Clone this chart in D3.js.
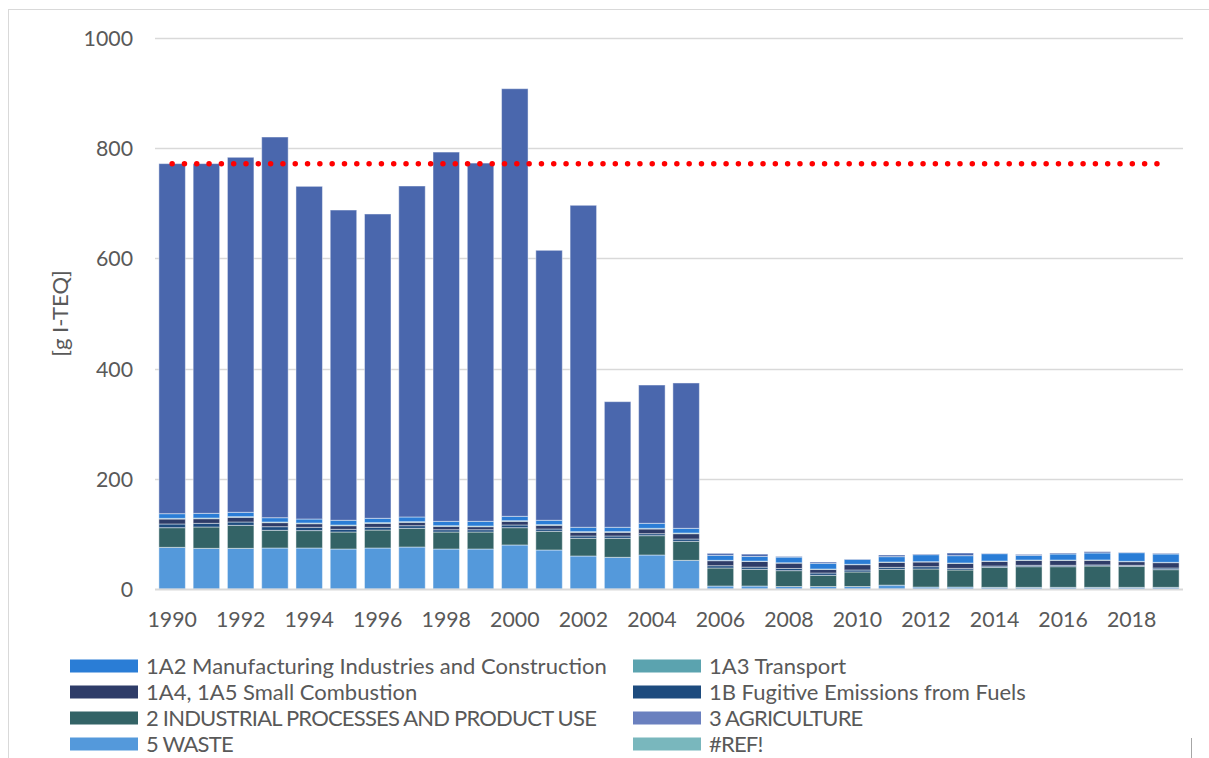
<!DOCTYPE html>
<html>
<head>
<meta charset="utf-8">
<script src="https://cdn.jsdelivr.net/npm/d3@7"></script>
<style>
  html, body { margin: 0; padding: 0; background: #fff; }
  svg { display: block; font-family: "Lato", "Liberation Sans", sans-serif; }
</style>
</head>
<body>
<svg id="chart" width="1209" height="758"></svg>
<script>
// Years on the category axis
const years = d3.range(1990, 2020);

// Emissions by source category, g I-TEQ per year (1990–2019)
const waste = [75.6, 73.8, 73.8, 74.4, 74.4, 72.6, 74.4, 76.2, 72.6, 72.6, 79.9, 70.8, 59.9, 57.5, 61.7, 52.0,
  5.4, 5.4, 4.5, 4.5, 4.5, 7.0, 3.5, 3.5, 3.0, 3.0, 3.0, 3.0, 3.0, 3.0];
const agriculture = [0, 0, 0, 0, 0, 0, 0, 0, 0, 0, 0, 0, 0, 0, 0, 0,
  0, 0, 0, 0, 0, 0, 0, 0, 0, 0, 0, 0, 0, 0];
const industrial = [35.7, 38.7, 41.7, 32.1, 31.6, 30.8, 32.6, 33.9, 30.8, 30.8, 31.4, 33.9, 32.1, 34.5, 35.1, 34.5,
  32.7, 30.3, 28.8, 20.3, 26.4, 28.7, 32.8, 31.0, 36.3, 37.5, 37.5, 38.7, 38.1, 32.1];
const fugitive = [6.7, 6.7, 6.1, 6.6, 6.0, 4.9, 5.0, 4.8, 4.2, 4.2, 4.9, 4.2, 4.2, 4.2, 3.6, 4.2,
  4.2, 4.0, 4.0, 4.2, 3.6, 3.6, 4.2, 3.0, 2.4, 2.5, 2.5, 2.0, 1.9, 3.0];
const smallCombustion = [9.0, 8.4, 8.5, 7.3, 6.5, 6.6, 7.2, 6.1, 6.1, 5.5, 6.6, 6.7, 6.7, 6.7, 8.5, 9.7,
  9.1, 10.3, 9.7, 6.7, 9.7, 9.1, 8.5, 9.1, 8.5, 9.0, 9.0, 8.4, 6.6, 9.7];
const transport = [1.2, 1.2, 1.2, 1.2, 1.2, 1.2, 1.2, 1.2, 1.2, 1.2, 1.2, 1.2, 1.2, 1.2, 1.2, 1.2,
  0.6, 0.6, 0.6, 0.6, 0.6, 0.6, 0.6, 0.6, 0.6, 0.6, 0.6, 0.6, 0.6, 0.6];
const manufacturing = [8.5, 8.5, 7.9, 7.8, 7.3, 8.6, 7.9, 8.5, 7.9, 8.5, 7.9, 7.9, 7.9, 7.9, 9.1, 8.5,
  9.1, 8.5, 10.3, 10.3, 9.0, 9.7, 12.7, 13.3, 13.3, 8.5, 10.9, 12.7, 15.7, 15.1];
const refSeries = [0, 0, 0, 0, 0, 0, 0, 0, 0, 0, 0, 0, 0, 0, 0, 0,
  0, 0, 0, 0, 0, 0, 0, 0, 0, 0, 0, 0, 0, 0];
const mainSource = [635.3, 634.7, 644.3, 690.9, 603.8, 563.1, 552.3, 600.7, 670.2, 650.2, 776.1, 490.0, 584.4, 228.0, 251.0, 263.8,
  3.6, 4.2, 1.2, 2.4, 0.6, 3.0, 1.2, 4.8, 0.5, 1.8, 1.8, 2.4, 0.6, 1.2];

// Reference level drawn as a dotted line (1990 total)
const referenceLevel = 772;

// Axis ticks
const yTicks = [0, 200, 400, 600, 800, 1000];
const xTickYears = d3.range(1990, 2020, 2);

// Series in stacking order (bottom to top); legend order is separate
const series = [
  { key: "ref", name: "#REF!", color: "#79B7BD", values: refSeries },
  { key: "waste", name: "5 WASTE", color: "#5499DB", values: waste },
  { key: "agr", name: "3 AGRICULTURE", color: "#6A80BF", values: agriculture },
  { key: "ind", name: "2 INDUSTRIAL PROCESSES AND PRODUCT USE", color: "#336366", values: industrial },
  { key: "fug", name: "1B Fugitive Emissions from Fuels", color: "#1D4B7E", values: fugitive },
  { key: "small", name: "1A4, 1A5 Small Combustion", color: "#2E3C68", values: smallCombustion },
  { key: "trans", name: "1A3 Transport", color: "#5BA3AF", values: transport },
  { key: "manu", name: "1A2 Manufacturing Industries and Construction", color: "#2A7DD6", values: manufacturing },
  { key: "main", name: "", color: "#4A67AD", values: mainSource }
];
const legendOrder = ["manu", "trans", "small", "fug", "ind", "agr", "waste", "ref"];

const rows = years.map((yr, i) => {
  const r = { year: yr };
  series.forEach(s => { r[s.key] = s.values[i]; });
  return r;
});

const svg = d3.select("#chart");
const textColor = "#595959";

// Chart frame
svg.append("rect")
  .attr("x", 8.5).attr("y", 9.5)
  .attr("width", 1240).attr("height", 800)
  .attr("fill", "none").attr("stroke", "#D9D9D9").attr("stroke-width", 1);

// Page rule at lower right
svg.append("line")
  .attr("x1", 1191.5).attr("x2", 1191.5)
  .attr("y1", 738).attr("y2", 758)
  .attr("stroke", "#A6A6A6").attr("stroke-width", 1);

const plot = { left: 155, right: 1183, top: 38, bottom: 589 };

const x = d3.scaleBand()
  .domain(years)
  .range([plot.left, plot.right])
  .paddingInner(0.227)
  .paddingOuter(0.1135);

const y = d3.scaleLinear()
  .domain([0, 1000])
  .range([plot.bottom, plot.top]);

// Gridlines
svg.append("g")
  .selectAll("line")
  .data(yTicks.filter(d => d > 0))
  .join("line")
  .attr("x1", plot.left).attr("x2", plot.right)
  .attr("y1", d => Math.round(y(d)) + 0.5).attr("y2", d => Math.round(y(d)) + 0.5)
  .attr("stroke", "#D9D9D9").attr("stroke-width", 1.3);

// Y axis labels
const yAxis = d3.axisLeft(y).tickValues(yTicks).tickSize(0).tickPadding(0).tickFormat(d3.format("d"));
const yAxisG = svg.append("g")
  .attr("transform", `translate(${plot.left - 22},0)`)
  .call(yAxis);
yAxisG.select(".domain").remove();
yAxisG.selectAll("text")
  .attr("fill", textColor)
  .attr("font-size", 21.3)
  .attr("font-family", "Lato, sans-serif")
  .attr("dy", "0.35em");

// Y axis title
svg.append("text")
  .attr("transform", `translate(68,${(plot.top + plot.bottom) / 2}) rotate(-90)`)
  .attr("text-anchor", "middle")
  .attr("fill", textColor)
  .attr("font-size", 22)
  .text("[g I-TEQ]");

// Stacked bars
const stack = d3.stack().keys(series.map(s => s.key));
const stacked = stack(rows);
const colorOf = Object.fromEntries(series.map(s => [s.key, s.color]));

svg.append("g")
  .selectAll("g")
  .data(stacked)
  .join("g")
  .attr("fill", d => colorOf[d.key])
  .selectAll("rect")
  .data(d => d.filter(p => p[1] - p[0] > 0))
  .join("rect")
  .attr("x", d => x(d.data.year))
  .attr("width", x.bandwidth())
  .attr("y", d => y(d[1]))
  .attr("height", d => y(d[0]) - y(d[1]))
  .attr("stroke", "rgba(255,255,255,0.45)")
  .attr("stroke-width", 1);

// Horizontal axis line
svg.append("line")
  .attr("x1", plot.left).attr("x2", plot.right)
  .attr("y1", plot.bottom + 0.5).attr("y2", plot.bottom + 0.5)
  .attr("stroke", "#D9D9D9").attr("stroke-width", 2);

// X axis labels
const xAxis = d3.axisBottom(x).tickValues(xTickYears).tickSize(0).tickPadding(0);
const xAxisG = svg.append("g")
  .attr("transform", `translate(0,${plot.bottom + 31})`)
  .call(xAxis);
xAxisG.select(".domain").remove();
xAxisG.selectAll("text")
  .attr("fill", textColor)
  .attr("font-size", 21.3)
  .attr("font-family", "Lato, sans-serif")
  .attr("dy", "0.35em");

// Dotted reference line
const first = years[0], last = years[years.length - 1];
svg.append("line")
  .attr("x1", x(first) + x.bandwidth() / 2)
  .attr("x2", x(last) + x.bandwidth() / 2)
  .attr("y1", y(referenceLevel)).attr("y2", y(referenceLevel))
  .attr("stroke", "#FF0000")
  .attr("stroke-width", 5.5)
  .attr("stroke-linecap", "round")
  .attr("stroke-dasharray", "0.01 12.3");

// Legend (two columns, row-major)
const legend = svg.append("g");
const legendItems = legendOrder.map(k => series.find(s => s.key === k));
legend.selectAll("g")
  .data(legendItems)
  .join("g")
  .attr("transform", (d, i) => `translate(${i % 2 === 0 ? 70 : 633},${666 + Math.floor(i / 2) * 26})`)
  .each(function (d) {
    const g = d3.select(this);
    const upper = d.name === d.name.toUpperCase();
    g.append("rect")
      .attr("x", 0).attr("y", -6.5)
      .attr("width", 68).attr("height", 13)
      .attr("fill", d.color);
    g.append("text")
      .attr("x", 76).attr("y", 0)
      .attr("dy", "0.35em")
      .attr("fill", textColor)
      .attr("font-size", 22)
      .attr("letter-spacing", upper ? -0.8 : 0)
      .text(d.name);
  });
</script>
</body>
</html>
